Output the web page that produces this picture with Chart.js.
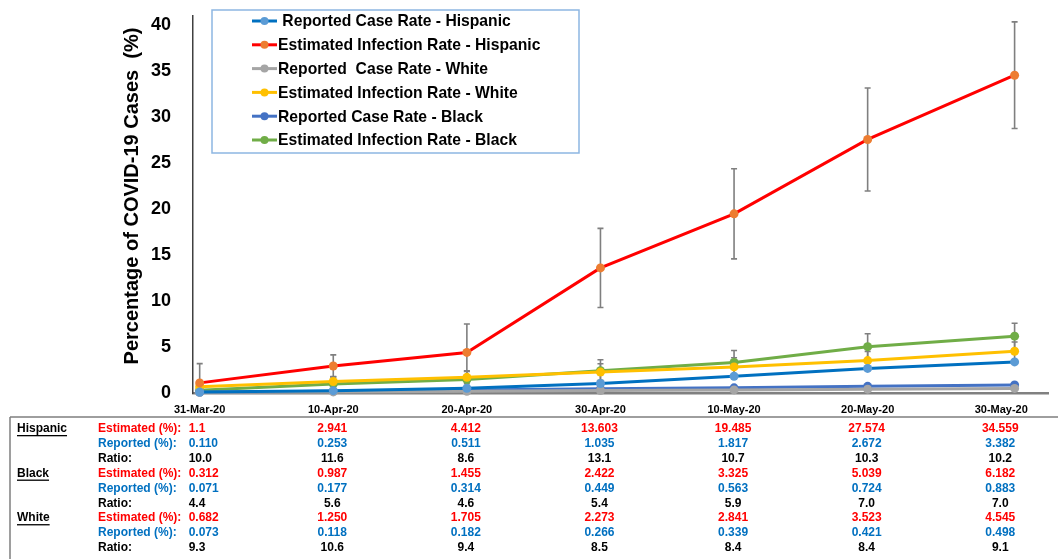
<!DOCTYPE html>
<html>
<head>
<meta charset="utf-8">
<script src="https://cdn.jsdelivr.net/npm/chart.js@4.4.1/dist/chart.umd.min.js"></script>
<style>
  html, body { margin: 0; padding: 0; background: #ffffff; }
  canvas { display: block; }
</style>
</head>
<body>
<canvas id="c" width="1058" height="559"></canvas>
<script>
// Date axis: labels every 10 days starting 31 March 2020 (day 0)
const tickLabels = ['31-Mar-20', '10-Apr-20', '20-Apr-20', '30-Apr-20', '10-May-20', '20-May-20', '30-May-20'];
const tickDays = [0, 10, 20, 30, 40, 50, 60];
// Days on which each sample was taken (last one on 31 May)
const sampleDays = [0, 10, 20, 30, 40, 50, 61];
// Percentage axis ticks
const yTicks = [0, 5, 10, 15, 20, 25, 30, 35, 40];

// Rates in percent
const reportedHispanic = [0.110, 0.253, 0.511, 1.035, 1.817, 2.672, 3.382];
const estimatedHispanic = [1.1, 2.941, 4.412, 13.603, 19.485, 27.574, 34.559];
const reportedWhite = [0.073, 0.118, 0.182, 0.266, 0.339, 0.421, 0.498];
const estimatedWhite = [0.682, 1.250, 1.705, 2.273, 2.841, 3.523, 4.545];
const reportedBlack = [0.071, 0.177, 0.314, 0.449, 0.563, 0.724, 0.883];
const estimatedBlack = [0.312, 0.987, 1.455, 2.422, 3.325, 5.039, 6.182];

// Error bar half-widths for the estimated series
const errorHispanic = [2.1, 1.2, 3.1, 4.3, 4.9, 5.6, 5.8];
const errorWhite = [0.3, 0.5, 0.7, 0.9, 1.0, 1.0, 1.0];
const errorBlack = [0.5, 0.8, 0.9, 1.2, 1.3, 1.4, 1.4];

// Estimated / reported ratios
const ratioHispanic = [10.0, 11.6, 8.6, 13.1, 10.7, 10.3, 10.2];
const ratioBlack = [4.4, 5.6, 4.6, 5.4, 5.9, 7.0, 7.0];
const ratioWhite = [9.3, 10.6, 9.4, 8.5, 8.4, 8.4, 9.1];

const seriesLabels = [
  ' Reported Case Rate - Hispanic',
  'Estimated Infection Rate - Hispanic',
  'Reported  Case Rate - White',
  'Estimated Infection Rate - White',
  'Reported Case Rate - Black',
  'Estimated Infection Rate - Black'
];
const yTitle = 'Percentage of COVID-19 Cases  (%)';

const FONT = '"Liberation Sans", Arial, sans-serif';
const RED = '#FF0000';
const BLUE = '#0070C0';

function pts(values) {
  return values.map((v, i) => ({ x: sampleDays[i], y: v }));
}

function series(label, values, lineColor, markerColor, errors) {
  return {
    label: label,
    data: pts(values),
    borderColor: lineColor,
    backgroundColor: markerColor,
    pointBackgroundColor: markerColor,
    pointBorderWidth: 0,
    pointRadius: 4.5,
    borderWidth: 3,
    tension: 0,
    clip: false,
    errorBars: errors || null
  };
}

const datasets = [
  series(seriesLabels[0], reportedHispanic, '#0070C0', '#5B9BD5'),
  series(seriesLabels[1], estimatedHispanic, '#FF0000', '#ED7D31', errorHispanic),
  series(seriesLabels[2], reportedWhite, '#A5A5A5', '#A5A5A5'),
  series(seriesLabels[3], estimatedWhite, '#FFC000', '#FFC000', errorWhite),
  series(seriesLabels[4], reportedBlack, '#4472C4', '#4472C4'),
  series(seriesLabels[5], estimatedBlack, '#70AD47', '#70AD47', errorBlack)
];

// Vertical error bars with caps, drawn beneath the lines
const errorBarPlugin = {
  id: 'errorBars',
  beforeDatasetsDraw(chart) {
    const ctx = chart.ctx;
    const y = chart.scales.y;
    const area = chart.chartArea;
    ctx.save();
    ctx.beginPath();
    ctx.rect(area.left, area.top - 2, area.right - area.left, area.bottom - area.top + 2);
    ctx.clip();
    ctx.strokeStyle = '#7F7F7F';
    ctx.lineWidth = 1.6;
    chart.data.datasets.forEach((ds, di) => {
      if (!ds.errorBars) return;
      const meta = chart.getDatasetMeta(di);
      meta.data.forEach((el, i) => {
        const v = ds.data[i].y;
        const e = ds.errorBars[i];
        const top = y.getPixelForValue(v + e);
        const bot = y.getPixelForValue(v - e);
        ctx.beginPath();
        ctx.moveTo(el.x, top);
        ctx.lineTo(el.x, bot);
        ctx.moveTo(el.x - 3, top);
        ctx.lineTo(el.x + 3, top);
        ctx.moveTo(el.x - 3, bot);
        ctx.lineTo(el.x + 3, bot);
        ctx.stroke();
      });
    });
    ctx.restore();
  }
};

// Rotated title for the percentage axis
const yTitlePlugin = {
  id: 'yTitle',
  afterDraw(chart) {
    const ctx = chart.ctx;
    ctx.save();
    ctx.translate(132, 196);
    ctx.rotate(-Math.PI / 2);
    ctx.font = 'bold 20px ' + FONT;
    ctx.fillStyle = '#000000';
    ctx.textAlign = 'center';
    ctx.textBaseline = 'middle';
    ctx.fillText(yTitle, 0, 0);
    ctx.restore();
  }
};

// Boxed legend placed inside the plot
const boxLegendPlugin = {
  id: 'boxLegend',
  afterDraw(chart) {
    const ctx = chart.ctx;
    const bx = 212, by = 10, bw = 367, bh = 143;
    ctx.save();
    ctx.fillStyle = '#FFFFFF';
    ctx.fillRect(bx, by, bw, bh);
    ctx.strokeStyle = '#8DB6E2';
    ctx.lineWidth = 1.5;
    ctx.strokeRect(bx, by, bw, bh);
    ctx.font = 'bold 15.7px ' + FONT;
    ctx.textBaseline = 'middle';
    ctx.textAlign = 'left';
    chart.data.datasets.forEach((ds, i) => {
      const cy = 21 + i * 23.8;
      ctx.strokeStyle = ds.borderColor;
      ctx.lineWidth = 3;
      ctx.beginPath();
      ctx.moveTo(252, cy);
      ctx.lineTo(277, cy);
      ctx.stroke();
      ctx.fillStyle = ds.pointBackgroundColor;
      ctx.beginPath();
      ctx.arc(264.5, cy, 4, 0, Math.PI * 2);
      ctx.fill();
      ctx.fillStyle = '#000000';
      ctx.fillText(ds.label, 278, cy + 1);
    });
    ctx.restore();
  }
};

function fmtRate(v) {
  const t = v * 10;
  return Math.abs(t - Math.round(t)) < 1e-9 ? v.toFixed(1) : v.toFixed(3);
}

// Summary table under the axis
const tableGroups = [
  { name: 'Hispanic', est: estimatedHispanic, rep: reportedHispanic, ratio: ratioHispanic },
  { name: 'Black', est: estimatedBlack, rep: reportedBlack, ratio: ratioBlack },
  { name: 'White', est: estimatedWhite, rep: reportedWhite, ratio: ratioWhite }
];

const tablePlugin = {
  id: 'summaryTable',
  afterDraw(chart) {
    const ctx = chart.ctx;
    const xs = chart.scales.x;
    ctx.save();
    ctx.strokeStyle = '#7F7F7F';
    ctx.lineWidth = 1.5;
    ctx.beginPath();
    ctx.moveTo(10, 417);
    ctx.lineTo(1058, 417);
    ctx.moveTo(10, 417);
    ctx.lineTo(10, 559);
    ctx.stroke();

    ctx.font = 'bold 12px ' + FONT;
    ctx.textBaseline = 'middle';
    const rowH = 14.85;
    let row = 0;
    tableGroups.forEach(g => {
      const rows = [
        { label: 'Estimated (%):', color: RED, vals: g.est.map(fmtRate) },
        { label: 'Reported (%):', color: BLUE, vals: g.rep.map(fmtRate) },
        { label: 'Ratio:', color: '#000000', vals: g.ratio.map(v => v.toFixed(1)) }
      ];
      rows.forEach((r, k) => {
        const cy = 429 + row * rowH;
        if (k === 0) {
          ctx.fillStyle = '#000000';
          ctx.textAlign = 'left';
          ctx.fillText(g.name, 17, cy);
          const w = ctx.measureText(g.name).width;
          ctx.fillRect(17, cy + 6, w, 1.3);
        }
        ctx.fillStyle = r.color;
        ctx.textAlign = 'left';
        ctx.fillText(r.label, 98, cy);
        r.vals.forEach((t, c) => {
          if (c === 0) {
            ctx.textAlign = 'left';
            ctx.fillText(t, xs.getPixelForValue(tickDays[0]) - 11, cy);
          } else {
            ctx.textAlign = 'center';
            ctx.fillText(t, xs.getPixelForValue(tickDays[c]) - 1, cy);
          }
        });
        row++;
      });
    });
    ctx.restore();
  }
};

new Chart(document.getElementById('c'), {
  type: 'line',
  data: { datasets: datasets },
  options: {
    responsive: false,
    animation: false,
    devicePixelRatio: 1,
    layout: { padding: { left: 120, top: 16, right: 10, bottom: 136 } },
    plugins: {
      legend: { display: false },
      tooltip: { enabled: false }
    },
    scales: {
      x: {
        type: 'linear',
        min: -0.5,
        max: 63.5,
        grid: { display: false },
        border: { display: true, color: '#808080', width: 2.5 },
        afterBuildTicks(s) { s.ticks = tickDays.map(v => ({ value: v })); },
        afterFit(s) { s.height = 30; s.paddingLeft = 0; s.paddingRight = 0; },
        ticks: {
          autoSkip: false,
          maxRotation: 0,
          padding: 2,
          color: '#000000',
          font: { family: FONT, size: 11, weight: 'bold' },
          callback(v) { const i = tickDays.indexOf(v); return i >= 0 ? tickLabels[i] : ''; }
        }
      },
      y: {
        type: 'linear',
        min: 0,
        max: 41,
        grid: { display: false },
        border: { display: true, color: '#404040', width: 1.5 },
        afterBuildTicks(s) { s.ticks = yTicks.map(v => ({ value: v })); },
        afterFit(s) { s.width = 73; s.paddingTop = 0; s.paddingBottom = 0; },
        ticks: {
          padding: 14,
          color: '#000000',
          font: { family: FONT, size: 18, weight: 'bold' }
        }
      }
    }
  },
  plugins: [errorBarPlugin, yTitlePlugin, boxLegendPlugin, tablePlugin]
});
</script>
</body>
</html>
